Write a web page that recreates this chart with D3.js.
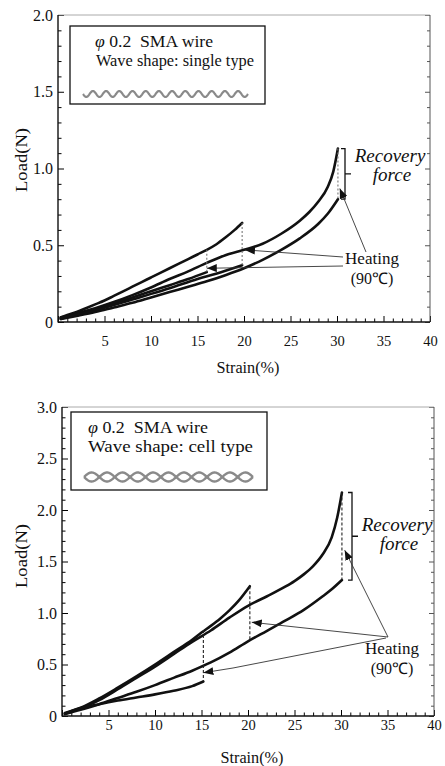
<!DOCTYPE html>
<html>
<head>
<meta charset="utf-8">
<script src="https://cdn.jsdelivr.net/npm/d3@7"></script>
<style>
body { margin: 0; background: #fff; }
</style>
</head>
<body>
<svg id="fig" width="445" height="766" font-family="Liberation Serif"></svg>
<script>
// tick values
var strainTicks = [0, 5, 10, 15, 20, 25, 30, 35, 40];
var singleLoadTicks = [0, 0.5, 1.0, 1.5, 2.0];
var cellLoadTicks = [0, 0.5, 1.0, 1.5, 2.0, 2.5, 3.0];

// single type wave, [strain %, load N]
var singleLoad20 = [[0.3,0.03],[1,0.045],[2,0.065],[3,0.09],[4,0.115],[5,0.14],[6,0.17],[7,0.2],[8,0.23],[9,0.26],[10,0.29],[11,0.32],[12,0.35],[13,0.38],[14,0.41],[15,0.44],[16,0.47],[17,0.505],[18,0.55],[19,0.6],[19.8,0.645]];
var singleLoad30 = [[0.3,0.02],[2,0.055],[4,0.09],[6,0.13],[8,0.175],[10,0.225],[12,0.28],[14,0.33],[16,0.385],[18,0.435],[20,0.47],[22,0.51],[24,0.575],[26,0.66],[27,0.715],[28,0.785],[29,0.88],[29.6,0.98],[30.1,1.13]];
var singleUnload30 = [[0.3,0.02],[2,0.04],[4,0.065],[6,0.095],[8,0.125],[10,0.16],[12,0.195],[14,0.23],[16,0.265],[18,0.305],[20,0.35],[22,0.405],[24,0.47],[26,0.545],[28,0.64],[29,0.705],[30.1,0.8]];
var singleUnload16 = [[0.3,0.03],[2,0.05],[4,0.08],[6,0.12],[8,0.16],[10,0.2],[12,0.24],[14,0.28],[16,0.325]];
var singleUnload20 = [[0.3,0.025],[3,0.06],[6,0.11],[9,0.165],[12,0.22],[15,0.28],[17,0.315],[19.8,0.37]];
// [strain, load before heating, load after]
var singleDrops = [[16,0.47,0.325],[19.8,0.645,0.37],[30.1,1.13,0.8]];
var singleHeating = [[20.1,0.47],[16.0,0.35],[30.3,0.87]];
var singleRecovery = [30.1, 1.13, 0.8];

// cell type wave
var cellLoad20 = [[0.3,0.03],[2,0.08],[4,0.17],[6,0.275],[8,0.385],[10,0.5],[12,0.62],[14,0.74],[15,0.81],[16,0.875],[17,0.945],[18,1.025],[19,1.12],[20.2,1.26]];
var cellLoad30 = [[0.3,0.02],[2,0.075],[4,0.155],[6,0.26],[8,0.37],[10,0.48],[12,0.6],[14,0.72],[16,0.83],[18,0.955],[20,1.07],[22,1.16],[24,1.255],[25,1.31],[26,1.375],[27,1.455],[28,1.565],[29,1.735],[29.6,1.93],[30.1,2.17]];
var cellUnload30 = [[0.3,0.02],[2,0.06],[4,0.115],[6,0.175],[8,0.235],[10,0.3],[12,0.37],[14,0.44],[16,0.52],[18,0.615],[20,0.725],[22,0.825],[24,0.925],[26,1.03],[28,1.16],[29,1.23],[30.1,1.32]];
var cellUnload15 = [[0.5,0.03],[2,0.075],[4,0.115],[6,0.15],[8,0.18],[10,0.21],[12,0.245],[14,0.29],[15.2,0.335]];
var cellDrops = [[15.2,0.835,0.335],[20.2,1.26,0.74],[30.1,2.17,1.32]];
var cellHeating = [[20.4,0.91],[15.2,0.42],[30.4,1.61]];
var cellRecovery = [30.1, 2.17, 1.32];

var svg = d3.select("#fig");
var defs = svg.append("defs");
defs.append("marker")
	.attr("id", "ah")
	.attr("viewBox", "0 0 10 8")
	.attr("refX", 10).attr("refY", 4)
	.attr("markerWidth", 10).attr("markerHeight", 8)
	.attr("markerUnits", "userSpaceOnUse")
	.attr("orient", "auto")
	.append("path").attr("d", "M0,0L10,4L0,8Z").attr("fill", "#111");

var SERIF = "Liberation Serif";

function LoadChart() { if (this.init) this.init.apply(this, arguments); }

LoadChart.prototype = {
	init : function(params) {
		for (var i in params) {
			this[i] = params[i];
		}
		this.x = d3.scaleLinear().domain([0, 40]).range([this.left, this.right]);
		this.y = d3.scaleLinear().domain([0, this.yMax]).range([this.bottom, this.top]);
		this.g = svg.append("g").attr("font-family", SERIF).attr("fill", "#111");
		this.drawAxes();
		this.drawLegend();
		this.drawCurves();
		this.drawNotes();
	},

	drawAxes : function() {
		var x = this.x, y = this.y, g = this.g, yMax = this.yMax;
		var fmt = function(d) { return d === 0 ? "0" : d3.format(".1f")(d); };
		var tidy = function(size) {
			return function(a) {
				a.attr("font-family", SERIF).attr("font-size", size);
				a.select(".domain").remove();
				a.selectAll("text").attr("fill", "#111");
			};
		};

		var minorX = d3.range(0, 41).filter(function(d) { return d % 5 !== 0; });
		var minorY = d3.range(0, Math.round(yMax * 10) + 1).map(function(d) { return d / 10; })
			.filter(function(d) { return Math.round(d * 10) % 5 !== 0; });

		g.append("g").attr("transform", "translate(0," + this.bottom + ")")
			.call(d3.axisBottom(x).tickValues(strainTicks).tickSizeInner(-6).tickSizeOuter(0)
				.tickPadding(this.xPad).tickFormat(function(d) { return d ? d : ""; }))
			.call(tidy(14.5));
		g.append("g").attr("transform", "translate(0," + this.bottom + ")")
			.call(d3.axisBottom(x).tickValues(minorX).tickSizeInner(-3.5).tickSizeOuter(0).tickFormat(""))
			.call(tidy(14.5));

		g.append("g").attr("transform", "translate(" + this.left + ",0)")
			.call(d3.axisLeft(y).tickValues(this.loadTicks).tickSizeInner(-6).tickSizeOuter(0)
				.tickPadding(5).tickFormat(fmt))
			.call(tidy(16));
		g.append("g").attr("transform", "translate(" + this.left + ",0)")
			.call(d3.axisLeft(y).tickValues(minorY).tickSizeInner(-3.5).tickSizeOuter(0).tickFormat(""))
			.call(tidy(16));

		// right side ticks, no labels
		g.append("g").attr("transform", "translate(" + this.right + ",0)")
			.call(d3.axisRight(y).tickValues(this.loadTicks).tickSizeInner(-5).tickSizeOuter(0).tickFormat(""))
			.call(tidy(16)).selectAll("line").attr("stroke", "#555");
		g.append("g").attr("transform", "translate(" + this.right + ",0)")
			.call(d3.axisRight(y).tickValues(minorY).tickSizeInner(-3).tickSizeOuter(0).tickFormat(""))
			.call(tidy(16)).selectAll("line").attr("stroke", "#555");

		// frame
		g.append("line").attr("x1", this.left).attr("x2", this.right).attr("y1", this.top).attr("y2", this.top)
			.attr("stroke", "#aaa").attr("stroke-width", 1);
		g.append("line").attr("x1", this.right).attr("x2", this.right).attr("y1", this.top).attr("y2", this.bottom)
			.attr("stroke", "#555").attr("stroke-width", 1);
		g.append("line").attr("x1", this.left).attr("x2", this.left).attr("y1", this.top).attr("y2", this.bottom + 0.5)
			.attr("stroke", "#111").attr("stroke-width", 1.4);
		g.append("line").attr("x1", this.left).attr("x2", this.right).attr("y1", this.bottom).attr("y2", this.bottom)
			.attr("stroke", "#111").attr("stroke-width", 1.4);

		g.append("text").attr("x", (this.left + this.right) / 2 + 4).attr("y", this.xTitleY)
			.attr("text-anchor", "middle").attr("font-size", 16)
			.attr("textLength", 63).attr("lengthAdjust", "spacingAndGlyphs").text("Strain(%)");
		g.append("text").attr("transform", "translate(27," + this.yTitleY + ") rotate(-90)")
			.attr("text-anchor", "middle").attr("font-size", 17)
			.attr("textLength", 64).attr("lengthAdjust", "spacingAndGlyphs").text("Load(N)");
	},

	drawLegend : function() {
		var L = this.legend, g = this.g;
		g.append("rect").attr("x", L.x).attr("y", L.y).attr("width", L.w).attr("height", L.h)
			.attr("fill", "#fff").attr("stroke", "#111").attr("stroke-width", 1.3);
		var t1 = g.append("text").attr("x", L.tx1).attr("y", L.y + 21).attr("font-size", 16)
			.attr("textLength", L.len1).attr("lengthAdjust", "spacingAndGlyphs");
		t1.append("tspan").attr("font-style", "italic").text("\u03c6");
		t1.append("tspan").text(" 0.2\u00a0\u00a0SMA wire");
		g.append("text").attr("x", L.tx2).attr("y", L.y + 40).attr("font-size", 16)
			.attr("textLength", L.len2).attr("lengthAdjust", "spacingAndGlyphs").text(L.label);

		// wire glyph
		var x0 = L.gx0, x1 = L.gx1, cy = L.gy, n = L.waves, amp = L.amp;
		var per = (x1 - x0) / n;
		var xs = d3.range(x0, x1 + 0.01, 0.5);
		var line = d3.line();
		if (L.cell) {
			[1, -1].forEach(function(s) {
				g.append("path").attr("d", line(xs.map(function(px) {
					return [px, cy + s * amp * Math.abs(Math.sin(Math.PI * (px - x0) / per))];
				}))).attr("fill", "none").attr("stroke", "#8a8a8a").attr("stroke-width", 2.4);
			});
		} else {
			g.append("path").attr("d", line(xs.map(function(px) {
				return [px, cy + amp * Math.sin(2 * Math.PI * (px - x0) / per)];
			}))).attr("fill", "none").attr("stroke", "#8a8a8a").attr("stroke-width", 2.2);
		}
	},

	drawCurves : function() {
		var x = this.x, y = this.y, g = this.g;
		var line = d3.line().x(function(d) { return x(d[0]); }).y(function(d) { return y(d[1]); })
			.curve(d3.curveMonotoneX);
		g.selectAll("path.curve").data(this.curves).enter().append("path")
			.attr("class", "curve")
			.attr("d", line)
			.attr("fill", "none").attr("stroke", "#111").attr("stroke-width", 2.6)
			.attr("stroke-linejoin", "round").attr("stroke-linecap", "round");

		g.selectAll("line.drop").data(this.drops).enter().append("line")
			.attr("class", "drop")
			.attr("x1", function(d) { return x(d[0]); }).attr("x2", function(d) { return x(d[0]); })
			.attr("y1", function(d) { return y(d[1]); }).attr("y2", function(d) { return y(d[2]); })
			.attr("stroke", this.dropColor).attr("stroke-width", 1.1).attr("stroke-dasharray", this.dropDash);
	},

	drawNotes : function() {
		var x = this.x, y = this.y, g = this.g, N = this.notes;

		// recovery force bracket
		var r = this.recovery;
		var bx = N.bracketX, yt = y(r[1]), yb = y(r[2]), ym = (yt + yb) / 2;
		g.append("path")
			.attr("d", "M" + (bx - 4) + "," + yt + "H" + bx + "V" + yb + "H" + (bx - 4) + "M" + bx + "," + ym + "H" + (bx + 6))
			.attr("fill", "none").attr("stroke", "#111").attr("stroke-width", 1.3);
		g.append("text").attr("x", N.recX).attr("y", N.recY).attr("text-anchor", "middle")
			.attr("font-size", 19).attr("font-style", "italic").text("Recovery");
		g.append("text").attr("x", N.recX + 2).attr("y", N.recY + 19).attr("text-anchor", "middle")
			.attr("font-size", 19).attr("font-style", "italic").text("force");

		g.append("text").attr("x", N.heatX).attr("y", N.heatY).attr("text-anchor", "middle")
			.attr("font-size", 17).text("Heating");
		g.append("text").attr("x", N.heatX).attr("y", N.heatY + 20).attr("text-anchor", "middle")
			.attr("font-size", 16).text("(90\u2103)");

		var line = d3.line();
		this.heating.forEach(function(h, i) {
			var pts = N.arrowFrom[i].concat([[x(h[0]), y(h[1])]]);
			g.append("path").attr("d", line(pts))
				.attr("fill", "none").attr("stroke", "#333").attr("stroke-width", 0.9)
				.attr("marker-end", "url(#ah)");
		});
	}
};

new LoadChart({
	left: 58, right: 430, top: 15, bottom: 322, yMax: 2.0,
	loadTicks: singleLoadTicks, xPad: 14, xTitleY: 373, yTitleY: 160,
	curves: [singleLoad20, singleLoad30, singleUnload30, singleUnload16, singleUnload20],
	drops: singleDrops, dropColor: "#777", dropDash: "2,2",
	heating: singleHeating, recovery: singleRecovery,
	legend: { x: 70, y: 26, w: 195, h: 78, tx1: 95, len1: 118, tx2: 96, len2: 158,
		label: "Wave shape: single type", gx0: 83, gx1: 248, gy: 94, waves: 12.5, amp: 3, cell: false },
	notes: { bracketX: 345, recX: 390, recY: 162, heatX: 372, heatY: 264,
		arrowFrom: [[[343, 257]], [[343, 266]], [[366, 252]]] }
});

new LoadChart({
	left: 62, right: 434, top: 407, bottom: 716, yMax: 3.0,
	loadTicks: cellLoadTicks, xPad: 4, xTitleY: 763, yTitleY: 556,
	curves: [cellLoad20, cellLoad30, cellUnload30, cellUnload15],
	drops: cellDrops, dropColor: "#222", dropDash: "3,2",
	heating: cellHeating, recovery: cellRecovery,
	legend: { x: 71, y: 412, w: 196, h: 78, tx1: 88, len1: 120, tx2: 88, len2: 165,
		label: "Wave shape: cell type", gx0: 84, gx1: 253, gy: 477, waves: 11, amp: 4.5, cell: true },
	notes: { bracketX: 352, recX: 397, recY: 531, heatX: 392, heatY: 654,
		arrowFrom: [[[388, 637]], [[386, 638], [233, 668]], [[388, 637]]] }
});
</script>
</body>
</html>
